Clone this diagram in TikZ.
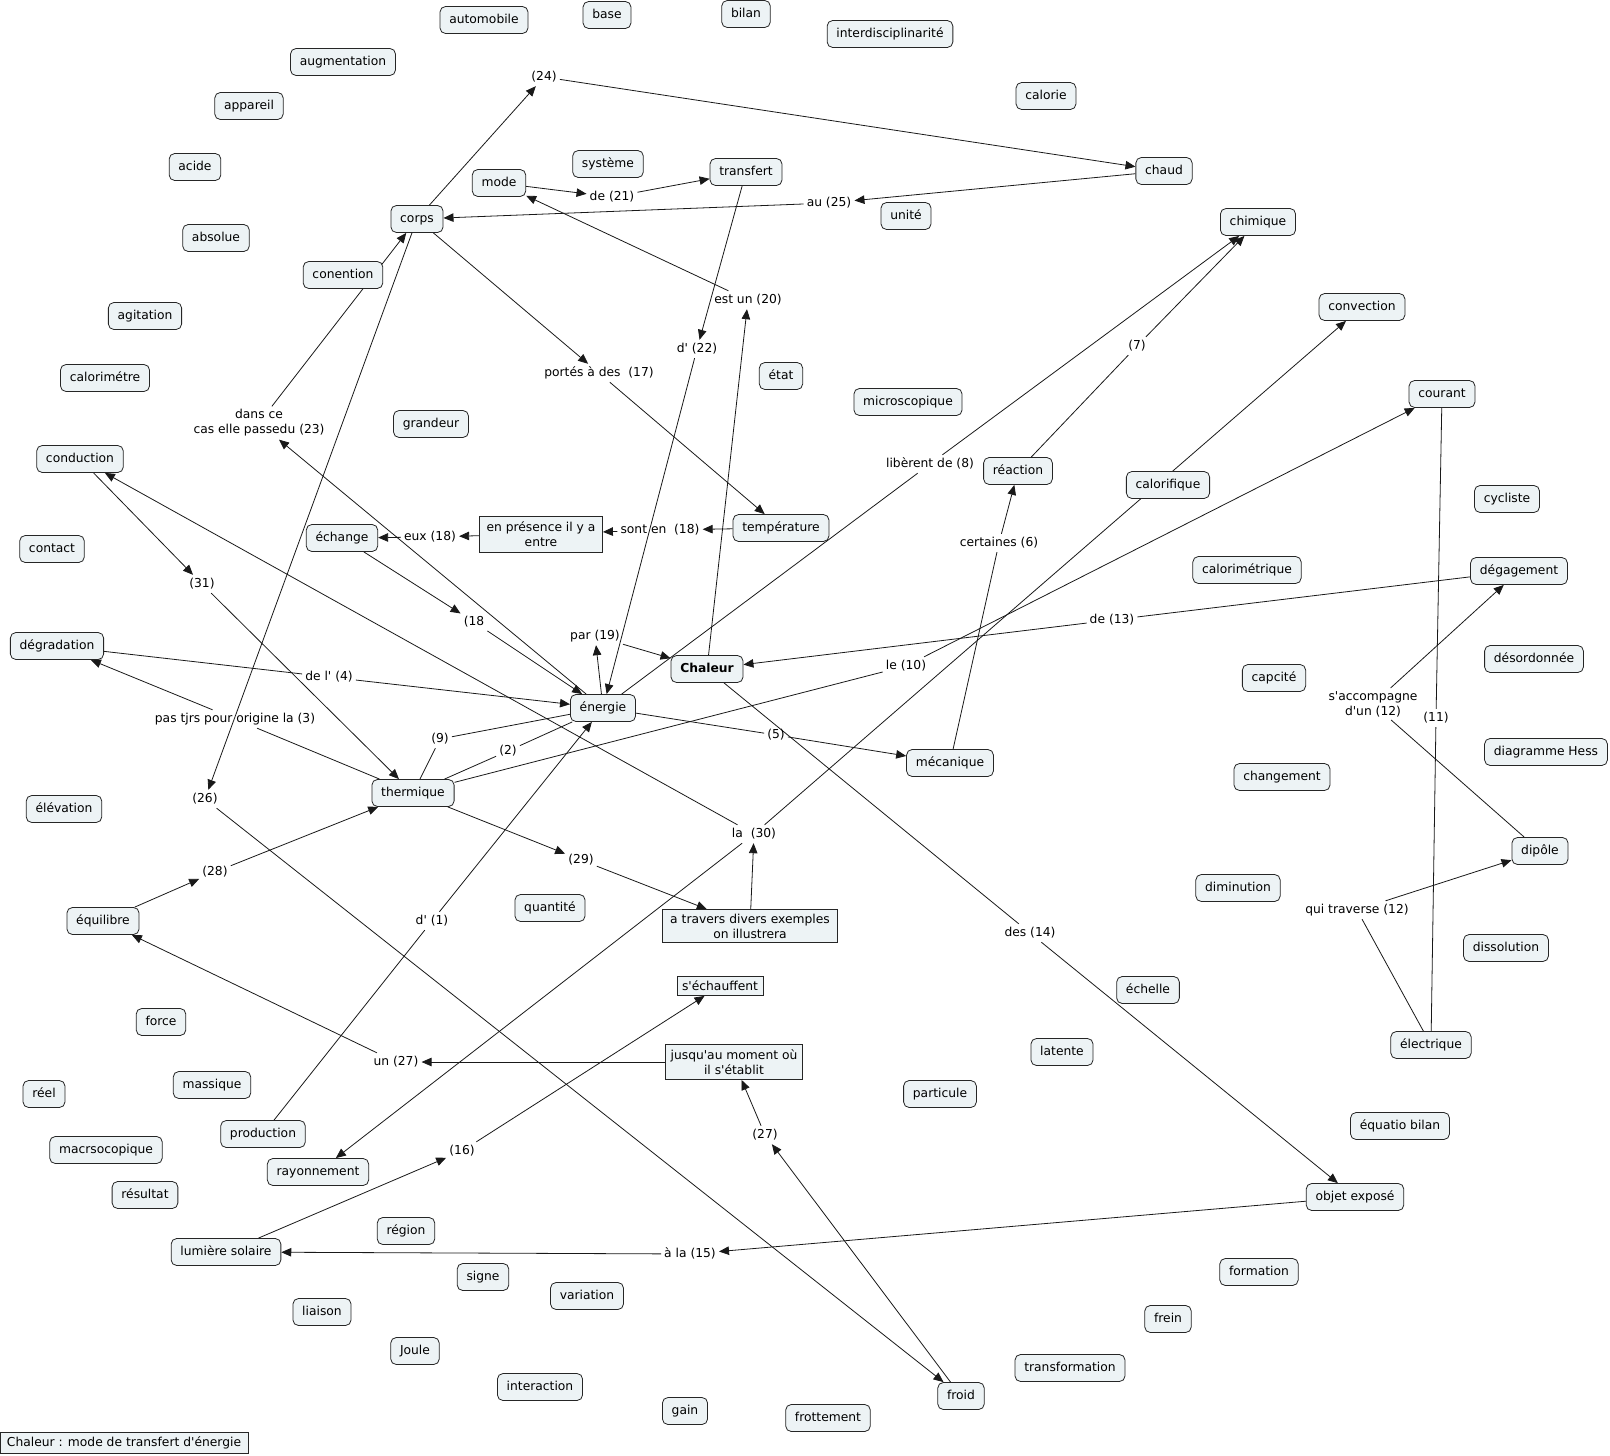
\documentclass[tikz,border=0pt]{standalone}
\usepackage{fontspec}
\newfontfamily\cmf{DejaVu Sans}
\usetikzlibrary{arrows.meta}
\pgfdeclarelayer{bg}
\pgfsetlayers{bg,main}
\definecolor{cfill}{RGB}{237,243,245}
\begin{document}
\begin{tikzpicture}[x=1pt,y=-1pt,
  every node/.style={font=\cmf\fontsize{12.3}{15}\selectfont},
  concept/.style={draw=black!85, fill=cfill, rounded corners=5.5pt, line width=0.8pt, inner xsep=9.3pt, inner ysep=0pt, minimum height=27pt, text height=9.3pt, text depth=2.7pt},
  rbox/.style={draw=black!85, fill=cfill, line width=0.8pt, inner sep=1pt, align=center},
  lab/.style={inner sep=3pt, text height=9.3pt, text depth=2.7pt},
  labtwo/.style={inner sep=3pt, align=center},
  link/.style={draw=black!90, line width=0.8pt},
  arr/.style={link, -{Triangle[length=10pt,width=8.5pt]}}
]
\useasboundingbox (0,0) rectangle (1610,1456);
% concepts
\node[concept] (automobile) at (484,20) {automobile};
\node[concept] (base) at (607,15) {base};
\node[concept] (bilan) at (746,14) {bilan};
\node[concept] (interdisc) at (890,34) {interdisciplinarité};
\node[concept] (augmentation) at (343,62) {augmentation};
\node[concept] (appareil) at (249,106) {appareil};
\node[concept] (calorie) at (1046,96) {calorie};
\node[concept] (acide) at (195,167) {acide};
\node[concept] (systeme) at (608,164) {système};
\node[concept] (mode) at (499,183) {mode};
\node[concept] (transfert) at (746,172) {transfert};
\node[concept] (chaud) at (1164,171) {chaud};
\node[concept] (corps) at (417,219) {corps};
\node[concept] (unite) at (906,216) {unité};
\node[concept] (absolue) at (216,238) {absolue};
\node[concept] (chimique) at (1258,222) {chimique};
\node[concept] (conention) at (343,275) {conention};
\node[concept] (agitation) at (145,316) {agitation};
\node[concept] (convection) at (1362,307) {convection};
\node[concept] (calorimetre) at (105,378) {calorimétre};
\node[concept] (etat) at (781,376) {état};
\node[concept] (microscopique) at (908,402) {microscopique};
\node[concept] (courant) at (1442,394) {courant};
\node[concept] (grandeur) at (431,424) {grandeur};
\node[concept] (conduction) at (80,459) {conduction};
\node[concept] (reaction) at (1018,471) {réaction};
\node[concept] (calorifique) at (1168,485) {calorifique};
\node[concept] (cycliste) at (1507,499) {cycliste};
\node[concept] (temperature) at (781,528) {température};
\node[concept] (echange) at (342,538) {échange};
\node[rbox, minimum width=123pt, minimum height=36pt] (presence) at (541,534) {en présence il y a\\entre};
\node[concept] (contact) at (52,549) {contact};
\node[concept] (calorimetrique) at (1247,570) {calorimétrique};
\node[concept] (degagement) at (1519,571) {dégagement};
\node[concept] (degradation) at (57,646) {dégradation};
\node[concept, font=\cmf\bfseries\fontsize{12.3}{15}\selectfont] (chaleur) at (707,669) {Chaleur};
\node[concept] (capcite) at (1274,678) {capcité};
\node[concept] (desordonnee) at (1534,659) {désordonnée};
\node[concept] (energie) at (603,708) {énergie};
\node[concept] (mecanique) at (950,763) {mécanique};
\node[concept] (hess) at (1546,752) {diagramme Hess};
\node[concept] (thermique) at (413,793) {thermique};
\node[concept] (changement) at (1282,777) {changement};
\node[concept] (elevation) at (64,809) {élévation};
\node[concept] (dipole) at (1540,851) {dipôle};
\node[concept] (diminution) at (1238,888) {diminution};
\node[concept] (equilibre) at (103,921) {équilibre};
\node[concept] (quantite) at (550,908) {quantité};
\node[rbox, minimum width=175pt, minimum height=33pt] (atravers) at (750,926) {a travers divers exemples\\on illustrera};
\node[concept] (dissolution) at (1506,948) {dissolution};
\node[rbox, minimum width=86pt, minimum height=19pt] (echauffent) at (720,986) {s'échauffent};
\node[concept] (echelle) at (1148,990) {échelle};
\node[concept] (force) at (161,1022) {force};
\node[concept] (latente) at (1062,1052) {latente};
\node[concept] (electrique) at (1431,1045) {électrique};
\node[rbox, minimum width=137pt, minimum height=35pt] (jusqu) at (734,1062) {jusqu'au moment où\\il s'établit};
\node[concept] (reel) at (44,1094) {réel};
\node[concept] (massique) at (212,1085) {massique};
\node[concept] (particule) at (940,1094) {particule};
\node[concept] (macro) at (106,1150) {macrsocopique};
\node[concept] (production) at (263,1134) {production};
\node[concept] (equatio) at (1400,1126) {équatio bilan};
\node[concept] (rayonnement) at (318,1172) {rayonnement};
\node[concept] (resultat) at (145,1195) {résultat};
\node[concept] (objet) at (1355,1197) {objet exposé};
\node[concept] (region) at (406,1231) {région};
\node[concept] (lumiere) at (226,1252) {lumière solaire};
\node[concept] (formation) at (1259,1272) {formation};
\node[concept] (signe) at (483,1277) {signe};
\node[concept] (variation) at (587,1296) {variation};
\node[concept] (liaison) at (322,1312) {liaison};
\node[concept] (frein) at (1168,1319) {frein};
\node[concept] (joule) at (415,1351) {Joule};
\node[concept] (transformation) at (1070,1368) {transformation};
\node[concept] (interaction) at (540,1387) {interaction};
\node[concept] (gain) at (685,1411) {gain};
\node[concept] (froid) at (961,1396) {froid};
\node[concept] (frottement) at (828,1418) {frottement};
\node[rbox, minimum width=248pt, minimum height=21pt] (title) at (124,1443) {Chaleur : mode de transfert d'énergie};
% link labels
\node[lab] (L24) at (544,77) {(24)};
\node[lab] (L25) at (829,203) {au (25)};
\node[lab] (L21) at (612,197) {de (21)};
\node[lab] (L20) at (748,300) {est un (20)};
\node[lab] (L22) at (697,349) {d' (22)};
\node[lab] (L17) at (599,373) {portés à des\ \ (17)};
\node[labtwo] (L23) at (259,423) {dans ce\\cas elle passedu (23)};
\node[lab] (L18a) at (660,530) {sont en\ \ (18)};
\node[lab] (L18b) at (430,537) {eux (18)};
\node[lab] (L18c) at (474,622) {(18};
\node[lab] (L31) at (202,584) {(31)};
\node[lab] (L8) at (930,464) {libèrent de (8)};
\node[lab] (L7) at (1137,346) {(7)};
\node[lab] (L6) at (999,543) {certaines (6)};
\node[lab] (L19) at (595,636) {par (19)};
\node[lab] (L10) at (906,666) {le (10)};
\node[lab] (L13) at (1112,620) {de (13)};
\node[lab] (L4) at (329,677) {de l' (4)};
\node[lab] (L3) at (235,719) {pas tjrs pour origine la (3)};
\node[lab] (L9) at (440,739) {(9)};
\node[lab] (L2) at (508,751) {(2)};
\node[lab] (L5) at (776,735) {(5)};
\node[labtwo] (L12a) at (1373,704) {s'accompagne\\d'un (12)};
\node[lab] (L11) at (1436,718) {(11)};
\node[lab] (L26) at (205,799) {(26)};
\node[lab] (L30) at (754,834) {la\ \ (30)};
\node[lab] (L29) at (581,860) {(29)};
\node[lab] (L28) at (215,872) {(28)};
\node[lab] (L1) at (432,921) {d' (1)};
\node[lab] (L14) at (1030,933) {des (14)};
\node[lab] (L12b) at (1357,910) {qui traverse (12)};
\node[lab] (L27a) at (396,1062) {un (27)};
\node[lab] (L27b) at (765,1135) {(27)};
\node[lab] (L16) at (462,1151) {(16)};
\node[lab] (L15) at (690,1254) {à la (15)};
% connectors
\begin{pgfonlayer}{bg}
\draw[arr] (corps) -- (L24);
\draw[arr] (L24) -- (chaud);
\draw[arr] (chaud) -- (L25);
\draw[arr] (L25) -- (corps);
\draw[arr] (mode) -- (L21);
\draw[arr] (L21) -- (transfert);
\draw[arr] (transfert) -- (L22);
\draw[arr] (L22) -- (energie);
\draw[arr] (chaleur) -- (L20);
\draw[arr] (L20) -- (mode);
\draw[arr] (corps) -- (L17);
\draw[arr] (L17) -- (temperature);
\draw[arr] (temperature) -- (L18a);
\draw[arr] (L18a) -- (presence);
\draw[arr] (presence) -- (L18b);
\draw[arr] (L18b) -- (echange);
\draw[arr] (echange) -- (L18c);
\draw[arr] (L18c) -- (energie);
\draw[arr] (energie) -- (L23);
\draw[arr] (L23) -- (corps);
\draw[arr] (corps) -- (L26);
\draw[arr] (L26) -- (froid);
\draw[arr] (conduction) -- (L31);
\draw[arr] (L31) -- (thermique);
\draw[arr] (atravers) -- (L30);
\draw[arr] (L30) -- (conduction);
\draw[arr] (L30) -- (convection);
\draw[arr] (L30) -- (rayonnement);
\draw[link] (thermique) -- (L10);
\draw[arr] (L10) -- (courant);
\draw[link] (mecanique) -- (L6);
\draw[arr] (L6) -- (reaction);
\draw[link] (reaction) -- (L7);
\draw[arr] (L7) -- (chimique);
\draw[link] (energie) -- (L8);
\draw[arr] (L8) -- (chimique);
\draw[arr] (energie) -- (L19);
\draw[arr] (L19) -- (chaleur);
\draw[link] (degagement) -- (L13);
\draw[arr] (L13) -- (chaleur);
\draw[link] (chaleur) -- (L14);
\draw[arr] (L14) -- (objet);
\draw[arr] (objet) -- (L15);
\draw[arr] (L15) -- (lumiere);
\draw[arr] (lumiere) -- (L16);
\draw[arr] (L16) -- (echauffent);
\draw[arr] (jusqu) -- (L27a);
\draw[arr] (L27a) -- (equilibre);
\draw[arr] (froid) -- (L27b);
\draw[arr] (L27b) -- (jusqu);
\draw[arr] (equilibre) -- (L28);
\draw[arr] (L28) -- (thermique);
\draw[arr] (thermique) -- (L29);
\draw[arr] (L29) -- (atravers);
\draw[link] (energie) -- (L5);
\draw[arr] (L5) -- (mecanique);
\draw[link] (thermique) -- (L9);
\draw[link] (L9) -- (energie);
\draw[link] (thermique) -- (L2);
\draw[link] (L2) -- (energie);
\draw[link] (thermique) -- (L3);
\draw[arr] (L3) -- (degradation);
\draw[link] (degradation) -- (L4);
\draw[arr] (L4) -- (energie);
\draw[link] (production) -- (L1);
\draw[arr] (L1) -- (energie);
\draw[link] (courant) -- (L11);
\draw[link] (L11) -- (electrique);
\draw[link] (electrique) -- (L12b);
\draw[arr] (L12b) -- (dipole);
\draw[link] (dipole) -- (L12a);
\draw[arr] (L12a) -- (degagement);
\end{pgfonlayer}
\end{tikzpicture}
\end{document}
